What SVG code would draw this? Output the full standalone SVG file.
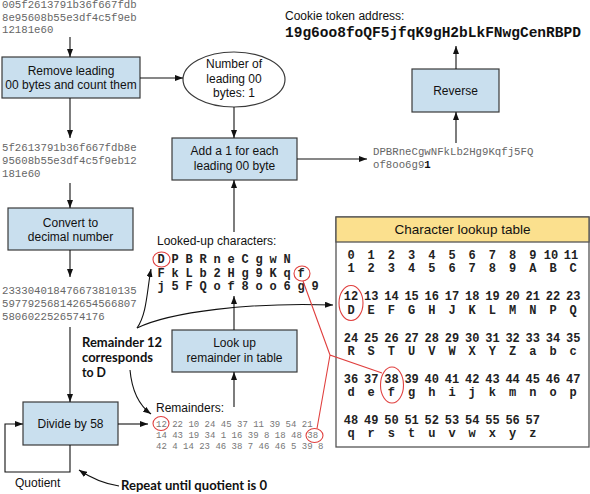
<svg xmlns="http://www.w3.org/2000/svg" width="590" height="494" viewBox="0 0 590 494">
<defs>
<marker id="ah" markerWidth="8" markerHeight="6" refX="8" refY="3" orient="auto" markerUnits="userSpaceOnUse"><path d="M0,0 L8,3 L0,6 z" fill="#111"/></marker>
<style>
.box{fill:#c9dfee;stroke:#3a3a3a;stroke-width:1.2}
.sans{font-family:"Liberation Sans",Arial,sans-serif;fill:#111}
.bt{font-family:"Liberation Sans",Arial,sans-serif;font-size:12px;fill:#111;text-anchor:middle}
.hex{font-family:"Liberation Mono","Courier New",monospace;font-size:10.7px;fill:#666}
.rem{font-family:"Liberation Mono","Courier New",monospace;font-size:9px;fill:#777}
.bm{font-family:"Liberation Mono","Courier New",monospace;font-weight:bold;font-size:12px;fill:#222;text-anchor:middle}
.tn{font-family:"Liberation Mono","Courier New",monospace;font-weight:bold;font-size:12px;fill:#222;text-anchor:middle}
.ann{font-family:Lato,"Open Sans",sans-serif;font-weight:bold;font-size:14px;fill:#111}
.ann2{font-family:Lato,"Open Sans",sans-serif;font-weight:bold;font-size:12.5px;fill:#111}
.conn{fill:none;stroke:#111;stroke-width:1.1}
.red{fill:none;stroke:#e0403f;stroke-width:1.1}
</style>
</defs>
<rect width="590" height="494" fill="#fff"/>

<g id="hex-input">
<text class="hex" x="2" y="8">005f2613791b36f667fdb</text>
<text class="hex" x="2" y="20.5">8e95608b55e3df4c5f9eb</text>
<text class="hex" x="2" y="33">12181e60</text>
</g>
<g id="remove-box">
<rect class="box" x="2" y="57" width="138" height="41"/>
<text class="bt" x="71" y="75">Remove leading</text>
<text class="bt" x="71" y="89">00 bytes and count them</text>
</g>
<g id="count-ellipse">
<ellipse cx="234" cy="79.5" rx="51" ry="27.5" fill="#fff" stroke="#3a3a3a" stroke-width="1.2"/>
<text class="bt" x="234" y="68">Number of</text>
<text class="bt" x="234" y="83">leading 00</text>
<text class="bt" x="234" y="97">bytes: 1</text>
</g>
<g id="hex-stripped">
<text class="hex" x="2" y="151">5f2613791b36f667fdb8e</text>
<text class="hex" x="2" y="164">95608b55e3df4c5f9eb12</text>
<text class="hex" x="2" y="177">181e60</text>
</g>
<g id="convert-box">
<rect class="box" x="8" y="208" width="125" height="42"/>
<text class="bt" x="70.5" y="227">Convert to</text>
<text class="bt" x="70.5" y="241">decimal number</text>
</g>
<g id="decimal">
<text class="hex" x="2" y="294">233304018476673810135</text>
<text class="hex" x="2" y="307">597792568142654566807</text>
<text class="hex" x="2" y="320">5806022526574176</text>
</g>
<g id="divide-box">
<rect class="box" x="23" y="402" width="95" height="43"/>
<text class="bt" x="70.5" y="428">Divide by 58</text>
</g>
<g id="quotient-label"><text class="sans" font-size="12" x="15" y="487">Quotient</text></g>
<g id="repeat-note"><text class="ann" x="121" y="490" textLength="146" lengthAdjust="spacingAndGlyphs">Repeat until quotient is 0</text></g>
<g id="remainder-note">
<text class="ann2" x="82" y="347" textLength="80" lengthAdjust="spacingAndGlyphs">Remainder 12</text>
<text class="ann2" x="82" y="362" textLength="71" lengthAdjust="spacingAndGlyphs">corresponds</text>
<text class="ann2" x="82" y="377" textLength="24" lengthAdjust="spacingAndGlyphs">to D</text>
</g>
<g id="remainders">
<text class="sans" font-size="12" x="156" y="412">Remainders:</text>
<text class="rem" x="156" y="427">12 22 10 24 45 37 11 39 54 21</text>
<text class="rem" x="156" y="438">14 43 19 34 1 16 39 8 18 48 38</text>
<text class="rem" x="156" y="449">42 4 14 23 46 38 7 46 46 5 39 8</text>
<ellipse class="red" cx="161" cy="423.5" rx="8" ry="7"/>
<ellipse class="red" cx="314.5" cy="435.5" rx="8.5" ry="7"/>
</g>
<g id="lookup-box">
<rect class="box" x="172" y="330" width="125" height="42"/>
<text class="bt" x="234.5" y="347">Look up</text>
<text class="bt" x="234.5" y="362">remainder in table</text>
</g>
<g id="looked-up">
<text class="sans" font-size="12" x="157" y="245">Looked-up characters:</text>
<text class="bm" x="161 175 189 203 217 231 245 259 273 287" y="263">DPBRneCgwN</text>
<text class="bm" x="161 175 189 203 217 231 245 259 273 287 301" y="277">FkLb2Hg9Kqf</text>
<text class="bm" x="161 175 189 203 217 231 245 259 273 287 301 315" y="290">j5FQof8oo6g9</text>
<ellipse class="red" cx="161.5" cy="259.5" rx="8.5" ry="7.5"/>
<ellipse class="red" cx="302" cy="273.5" rx="8" ry="7.5"/>
</g>
<g id="add-box">
<rect class="box" x="172" y="138" width="125" height="42"/>
<text class="bt" x="234.5" y="155">Add a 1 for each</text>
<text class="bt" x="234.5" y="170">leading 00 byte</text>
</g>
<g id="encoded">
<text class="hex" x="373" y="155">DPBRneCgwNFkLb2Hg9Kqfj5FQ</text>
<text class="hex" x="373" y="168">of8oo6g9<tspan font-weight="bold" fill="#111">1</tspan></text>
</g>
<g id="reverse-box">
<rect class="box" x="412" y="69" width="87" height="43"/>
<text class="bt" x="455.5" y="95">Reverse</text>
</g>
<g id="cookie">
<text class="sans" font-size="12" x="285" y="20">Cookie token address:</text>
<text x="285" y="37" font-family="'Liberation Mono','Courier New',monospace" font-weight="bold" font-size="14.5" fill="#111">19g6oo8foQF5jfqK9gH2bLkFNwgCenRBPD</text>
</g>
<g id="lookup-table">
<rect x="336" y="217" width="253" height="230" fill="#fff" stroke="#555" stroke-width="1.3"/>
<rect x="336" y="217" width="253" height="25" fill="#fbe08e" stroke="#555" stroke-width="1.3"/>
<text class="sans" font-size="13.5" x="462.5" y="234" text-anchor="middle">Character lookup table</text>
<text class="tn" y="259"><tspan x="351">0</tspan><tspan x="371.2">1</tspan><tspan x="391.4">2</tspan><tspan x="411.6">3</tspan><tspan x="431.8">4</tspan><tspan x="452">5</tspan><tspan x="472.2">6</tspan><tspan x="492.4">7</tspan><tspan x="512.6">8</tspan><tspan x="532.8">9</tspan><tspan x="551">10</tspan><tspan x="571">11</tspan></text>
<text class="tn" x="351 371.2 391.4 411.6 431.8 452 472.2 492.4 512.6 532.8 553 573.2" y="272">123456789ABC</text>
<text class="tn" y="300"><tspan x="351">12</tspan><tspan x="371.2">13</tspan><tspan x="391.4">14</tspan><tspan x="411.6">15</tspan><tspan x="431.8">16</tspan><tspan x="452">17</tspan><tspan x="472.2">18</tspan><tspan x="492.4">19</tspan><tspan x="512.6">20</tspan><tspan x="532.8">21</tspan><tspan x="553">22</tspan><tspan x="573.2">23</tspan></text>
<text class="tn" x="351 371.2 391.4 411.6 431.8 452 472.2 492.4 512.6 532.8 553 573.2" y="314">DEFGHJKLMNPQ</text>
<text class="tn" y="342"><tspan x="351">24</tspan><tspan x="371.2">25</tspan><tspan x="391.4">26</tspan><tspan x="411.6">27</tspan><tspan x="431.8">28</tspan><tspan x="452">29</tspan><tspan x="472.2">30</tspan><tspan x="492.4">31</tspan><tspan x="512.6">32</tspan><tspan x="532.8">33</tspan><tspan x="553">34</tspan><tspan x="573.2">35</tspan></text>
<text class="tn" x="351 371.2 391.4 411.6 431.8 452 472.2 492.4 512.6 532.8 553 573.2" y="355">RSTUVWXYZabc</text>
<text class="tn" y="383"><tspan x="351">36</tspan><tspan x="371.2">37</tspan><tspan x="391.4">38</tspan><tspan x="411.6">39</tspan><tspan x="431.8">40</tspan><tspan x="452">41</tspan><tspan x="472.2">42</tspan><tspan x="492.4">43</tspan><tspan x="512.6">44</tspan><tspan x="532.8">45</tspan><tspan x="553">46</tspan><tspan x="573.2">47</tspan></text>
<text class="tn" x="351 371.2 391.4 411.6 431.8 452 472.2 492.4 512.6 532.8 553 573.2" y="396">defghijkmnop</text>
<text class="tn" y="424"><tspan x="351">48</tspan><tspan x="371.2">49</tspan><tspan x="391.4">50</tspan><tspan x="411.6">51</tspan><tspan x="431.8">52</tspan><tspan x="452">53</tspan><tspan x="472.2">54</tspan><tspan x="492.4">55</tspan><tspan x="512.6">56</tspan><tspan x="532.8">57</tspan></text>
<text class="tn" x="351 371.2 391.4 411.6 431.8 452 472.2 492.4 512.6 532.8" y="437">qrstuvwxyz</text>
<ellipse class="red" cx="351" cy="303" rx="12" ry="17.5"/>
<ellipse class="red" cx="392" cy="385" rx="11.5" ry="18"/>
</g>

<g id="connectors">
<path class="conn" d="M70,37 V57" marker-end="url(#ah)"/>
<path class="conn" d="M140,78 H183" marker-end="url(#ah)"/>
<path class="conn" d="M234,107 V138" marker-end="url(#ah)"/>
<path class="conn" d="M70,98 V138" marker-end="url(#ah)"/>
<path class="conn" d="M70,183 V208" marker-end="url(#ah)"/>
<path class="conn" d="M70,250 V277" marker-end="url(#ah)"/>
<path class="conn" d="M70,327 V402" marker-end="url(#ah)"/>
<path class="conn" d="M118,424 H148" marker-end="url(#ah)"/>
<path class="conn" d="M70,445 V472 H5 V424 H23" marker-end="url(#ah)"/>
<path class="conn" d="M234,407 V372" marker-end="url(#ah)"/>
<path class="conn" d="M234,330 V296" marker-end="url(#ah)"/>
<path class="conn" d="M234,232 V180" marker-end="url(#ah)"/>
<path class="conn" d="M297,159 H367" marker-end="url(#ah)"/>
<path class="conn" d="M456,143 V112" marker-end="url(#ah)"/>
<path class="conn" d="M456,69 V46" marker-end="url(#ah)"/>
<path class="conn" d="M137,328 C147,314 147,290 151,269" marker-end="url(#ah)"/>
<path class="conn" d="M137,328 C170,312 250,302 333,305" marker-end="url(#ah)"/>
<path class="conn" d="M130,370 C132,392 140,406 151,414" marker-end="url(#ah)"/>
<path class="conn" d="M119,486 C105,484 91,478 79,470" marker-end="url(#ah)"/>
<path class="red" d="M303,281 L330,355 L382,373 M330,355 L317,428.5"/>
</g>
</svg>
